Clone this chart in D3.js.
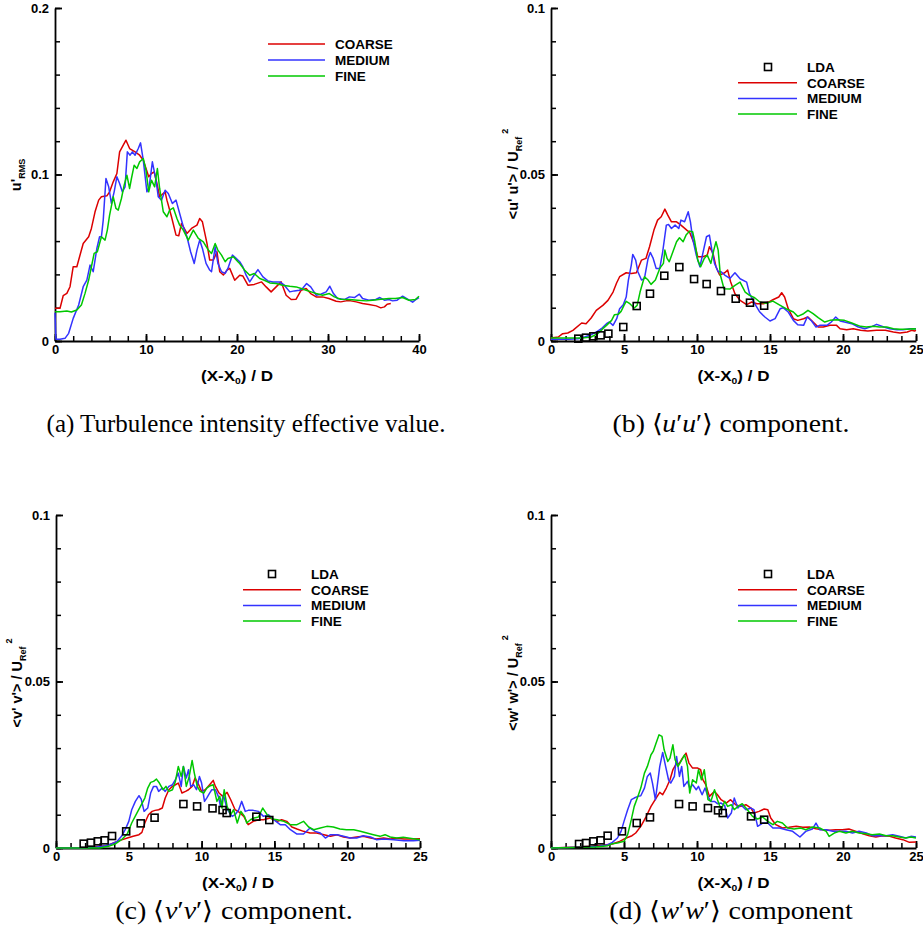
<!DOCTYPE html>
<html>
<head>
<meta charset="utf-8">
<script src="https://cdn.jsdelivr.net/npm/d3@7"></script>
<style>
  body { margin: 0; background: #fff; }
  svg { display: block; }
  .tk text { font-family: 'Liberation Sans', Arial, sans-serif; font-weight: bold; font-size: 13px; fill: #000; }
  .lbl { font-family: 'Liberation Sans', Arial, sans-serif; font-weight: bold; fill: #000; }
  .cap { font-family: 'Liberation Serif', 'Times New Roman', serif; fill: #000; }
</style>
</head>
<body>
<svg width="923" height="944"></svg>
<script>
// panel (a) : u'rms vs (X-X0)/D
const aCoarse = [[0,0.0196],[0.55,0.0196],[0.9,0.0272],[1.3,0.0286],[1.65,0.0326],[2.0,0.0446],[2.4,0.0446],[3.1,0.0586],[3.7,0.0626],[4.0,0.0676],[4.4,0.0776],[4.8,0.0846],[5.1,0.0866],[5.7,0.0872],[6.0,0.0896],[6.4,0.0956],[6.8,0.1006],[7.1,0.1136],[7.5,0.1176],[7.8,0.1206],[8.2,0.1156],[8.8,0.1136],[9.3,0.1116],[9.7,0.1086],[10.3,0.0986],[10.6,0.1006],[10.9,0.1016],[11.2,0.0946],[11.5,0.0866],[12.1,0.0896],[12.3,0.0846],[12.8,0.0746],[13.3,0.0636],[13.6,0.0632],[13.9,0.0706],[14.5,0.0646],[15.0,0.0676],[15.6,0.0696],[15.9,0.0736],[16.2,0.0716],[16.7,0.0586],[17.0,0.0486],[17.4,0.0486],[17.8,0.0536],[18.1,0.0416],[18.5,0.0396],[18.9,0.0426],[19.2,0.0436],[19.75,0.0365],[20.3,0.0395],[20.65,0.039],[21.2,0.0335],[21.9,0.034],[22.7,0.0355],[23.2,0.0325],[23.75,0.0295],[24.3,0.0325],[24.85,0.0355],[25.4,0.0275],[25.95,0.0249],[26.5,0.0251],[27.05,0.0305],[27.6,0.0315],[28.1,0.0285],[28.7,0.0265],[29.4,0.0265],[30.1,0.0255],[30.9,0.0239],[31.4,0.0235],[32.0,0.0241],[32.5,0.0241],[33.1,0.0235],[33.8,0.0225],[34.5,0.0219],[35.3,0.0211],[35.8,0.0199],[36.2,0.0205],[36.5,0.0221],[36.9,0.0225]];
const aMedium = [[0,0.017],[0.1,0.001],[0.55,0.001],[1.1,0.0016],[1.5,0.0046],[2.0,0.0136],[2.6,0.0216],[3.1,0.0326],[3.5,0.0366],[3.85,0.0456],[4.2,0.0416],[4.6,0.0556],[4.9,0.0626],[5.1,0.0626],[5.3,0.0726],[5.6,0.0976],[5.9,0.0926],[6.2,0.0826],[6.5,0.0896],[6.8,0.0986],[7.1,0.0946],[7.4,0.0896],[7.7,0.0926],[7.95,0.1136],[8.25,0.1116],[8.5,0.1136],[8.8,0.1116],[9.15,0.1156],[9.4,0.119],[9.7,0.1086],[10.1,0.0896],[10.35,0.0926],[10.7,0.1076],[11.1,0.0966],[11.35,0.0866],[11.7,0.0846],[12.1,0.0906],[12.45,0.0886],[12.9,0.0826],[13.3,0.0846],[13.7,0.0766],[14.1,0.0686],[14.5,0.0626],[14.9,0.0536],[15.3,0.0466],[15.6,0.0546],[15.9,0.0606],[16.2,0.0556],[16.6,0.0466],[17.0,0.0426],[17.2,0.0416],[17.6,0.0566],[17.9,0.0466],[18.3,0.0416],[18.7,0.0406],[19.0,0.0436],[19.5,0.0516],[19.9,0.0496],[20.3,0.0476],[20.65,0.0445],[21.0,0.0395],[21.4,0.0355],[21.75,0.0385],[22.3,0.0429],[22.85,0.0385],[23.4,0.0361],[23.95,0.0355],[24.7,0.0355],[25.2,0.0335],[25.8,0.0295],[26.3,0.0301],[26.85,0.0305],[27.2,0.0315],[27.65,0.0345],[28.1,0.0325],[28.7,0.0275],[29.2,0.0281],[29.8,0.0295],[30.2,0.0329],[30.6,0.0285],[31.05,0.0255],[31.8,0.0249],[32.35,0.0265],[32.9,0.0261],[33.45,0.0281],[33.8,0.0255],[34.5,0.0245],[35.25,0.0249],[35.7,0.0261],[36.2,0.0245],[36.7,0.0249],[37.1,0.0241],[37.6,0.0245],[38.2,0.0269],[38.7,0.0253],[39.3,0.0233],[39.6,0.0247],[40,0.0261]];
const aFine = [[0,0.0176],[0.55,0.0176],[1.3,0.018],[1.8,0.0174],[2.4,0.0186],[2.9,0.0216],[3.3,0.0286],[3.7,0.0366],[4.0,0.0446],[4.3,0.0526],[4.65,0.0536],[4.9,0.0586],[5.1,0.0626],[5.5,0.0606],[5.75,0.0666],[6.0,0.0756],[6.4,0.0866],[6.7,0.0796],[6.95,0.0786],[7.3,0.0856],[7.6,0.0936],[7.9,0.0996],[8.2,0.0916],[8.4,0.0976],[8.7,0.1056],[9.0,0.1036],[9.3,0.1076],[9.7,0.1096],[10.0,0.1026],[10.3,0.0896],[10.6,0.0966],[10.95,0.0926],[11.25,0.1036],[11.5,0.0916],[11.9,0.0776],[12.3,0.0746],[12.6,0.0786],[13.0,0.08],[13.4,0.0736],[13.7,0.0696],[14.1,0.0666],[14.65,0.0606],[15.2,0.0666],[15.75,0.0616],[16.3,0.0596],[16.85,0.0546],[17.2,0.0526],[17.6,0.0586],[17.9,0.0546],[18.3,0.0516],[18.7,0.0476],[19.0,0.0496],[19.6,0.0506],[20.1,0.0476],[20.3,0.0465],[20.85,0.0425],[21.4,0.0395],[21.9,0.0405],[22.5,0.0375],[23.0,0.0365],[23.6,0.0349],[24.3,0.0345],[25.0,0.0335],[25.8,0.0329],[26.5,0.0325],[27.05,0.0315],[27.6,0.0305],[28.15,0.0295],[28.7,0.0285],[29.4,0.0275],[30.15,0.0285],[30.7,0.0265],[31.4,0.0251],[32.35,0.0249],[33.25,0.0245],[34.2,0.0241],[34.9,0.0245],[35.8,0.0251],[36.7,0.0255],[37.4,0.0255],[38.2,0.0261],[38.9,0.0245],[39.6,0.0249],[40,0.0269]];

// panel (b) : <u'u'>
const bLda = [[1.87,0.0007],[2.4,0.001],[2.9,0.0014],[3.4,0.0017],[3.93,0.0022],[4.95,0.0042],[5.87,0.0105],[6.78,0.0142],[7.76,0.0196],[8.79,0.0222],[9.8,0.0186],[10.66,0.0171],[11.64,0.015],[12.65,0.0127],[13.63,0.0115],[14.6,0.0106]];
const bCoarse = [[0,0.0009],[0.5,0.0012],[0.8,0.0022],[1.15,0.0024],[1.5,0.0032],[2.1,0.0054],[2.4,0.0052],[2.75,0.0069],[3.1,0.0092],[3.55,0.0107],[3.9,0.0122],[4.25,0.0147],[4.5,0.0175],[4.7,0.0193],[5.15,0.0205],[5.5,0.0203],[5.85,0.0205],[6.2,0.0243],[6.5,0.0248],[6.75,0.0283],[7.05,0.0333],[7.3,0.0363],[7.55,0.0373],[7.8,0.0396],[8.0,0.0378],[8.25,0.0358],[8.6,0.0358],[8.9,0.0348],[9.3,0.0333],[9.5,0.0326],[9.85,0.0288],[10.05,0.0253],[10.4,0.0253],[10.7,0.0258],[10.85,0.0283],[11.1,0.0263],[11.3,0.0223],[11.55,0.0198],[11.9,0.0205],[12.1,0.0213],[12.3,0.0178],[12.6,0.0142],[12.95,0.0122],[13.4,0.0109],[13.75,0.0117],[14.1,0.0112],[14.55,0.0112],[14.9,0.0117],[15.2,0.0124],[15.6,0.0132],[15.8,0.0145],[16.0,0.0132],[16.25,0.0097],[16.6,0.0067],[16.9,0.0062],[17.3,0.0067],[17.6,0.0072],[17.95,0.0057],[18.3,0.0042],[18.65,0.0042],[19.1,0.0047],[19.56,0.0047],[19.8,0.0037],[20.25,0.0034],[20.7,0.0037],[21.2,0.0032],[21.7,0.003],[22.3,0.0032],[22.9,0.0032],[23.45,0.0027],[23.9,0.0024],[24.4,0.0027],[24.7,0.0032],[24.9,0.003],[25,0.0032]];
const bMedium = [[0,0.0005],[1.2,0.0005],[1.85,0.0007],[2.3,0.0012],[2.75,0.0019],[3.1,0.0027],[3.45,0.0037],[3.8,0.0052],[4.0,0.0057],[4.25,0.0047],[4.5,0.0067],[4.7,0.0097],[4.95,0.0109],[5.15,0.0132],[5.3,0.0183],[5.5,0.0228],[5.6,0.026],[5.8,0.0243],[5.95,0.0208],[6.2,0.0183],[6.4,0.0188],[6.65,0.0248],[6.8,0.0266],[7.0,0.0248],[7.2,0.0218],[7.45,0.0218],[7.65,0.0268],[7.9,0.0348],[8.05,0.035],[8.25,0.0338],[8.5,0.0348],[8.75,0.0338],[8.9,0.0363],[9.15,0.0358],[9.4,0.0388],[9.55,0.0358],[9.7,0.0308],[9.95,0.0258],[10.2,0.0223],[10.4,0.0263],[10.65,0.0313],[10.85,0.0318],[11.0,0.0278],[11.2,0.0233],[11.45,0.0208],[11.65,0.0208],[11.9,0.0198],[12.25,0.0188],[12.6,0.0205],[12.95,0.0187],[13.4,0.0177],[13.6,0.0142],[13.95,0.0112],[14.3,0.0087],[14.65,0.0072],[15.0,0.006],[15.35,0.0067],[15.7,0.0097],[15.9,0.01],[16.25,0.0087],[16.6,0.0062],[16.9,0.0049],[17.3,0.0047],[17.55,0.0072],[17.85,0.006],[18.15,0.0042],[18.4,0.0047],[18.9,0.0047],[19.2,0.0057],[19.5,0.0072],[19.8,0.006],[20.1,0.0057],[20.6,0.0052],[21.05,0.0042],[21.5,0.0037],[22.0,0.0044],[22.3,0.005],[22.8,0.0042],[23.2,0.0037],[23.7,0.0034],[24.1,0.0034],[24.6,0.0037],[25,0.0037]];
const bFine = [[0,0.0009],[1.15,0.0009],[2.1,0.0009],[2.75,0.0012],[3.2,0.0022],[3.55,0.0037],[3.8,0.0047],[4.15,0.0062],[4.35,0.0079],[4.6,0.008],[4.8,0.0089],[5.0,0.0107],[5.15,0.0119],[5.4,0.0112],[5.7,0.0099],[5.9,0.0107],[6.1,0.0147],[6.4,0.0193],[6.65,0.0183],[6.85,0.017],[7.15,0.0183],[7.45,0.0218],[7.7,0.0233],[7.8,0.0273],[7.95,0.0248],[8.1,0.0238],[8.35,0.0268],[8.6,0.0298],[8.8,0.031],[9.05,0.0298],[9.25,0.0318],[9.5,0.033],[9.7,0.0328],[9.85,0.0298],[10.05,0.0243],[10.25,0.0223],[10.5,0.0248],[10.7,0.0258],[10.95,0.0233],[11.15,0.0273],[11.3,0.0298],[11.45,0.0273],[11.6,0.0198],[11.85,0.0157],[12.25,0.0156],[12.6,0.0167],[12.95,0.0177],[13.3,0.0147],[13.6,0.0137],[13.95,0.013],[14.3,0.0117],[14.75,0.0113],[15.2,0.012],[15.7,0.0107],[16.1,0.0097],[16.6,0.0087],[16.9,0.0074],[17.3,0.0082],[17.6,0.0092],[17.95,0.0082],[18.3,0.007],[18.75,0.0057],[19.1,0.0062],[19.55,0.0064],[20.1,0.0062],[20.6,0.0054],[21.2,0.0044],[21.6,0.0042],[22.1,0.0044],[22.5,0.0042],[23.0,0.0042],[23.45,0.0037],[23.9,0.0035],[24.4,0.0035],[24.8,0.0037],[25,0.0036]];

// panel (c) : <v'v'>
const cLda = [[1.9,0.0013],[2.4,0.0016],[2.87,0.002],[3.34,0.0023],[3.85,0.0036],[4.82,0.005],[5.82,0.0074],[6.77,0.0091],[8.75,0.0132],[9.69,0.0125],[10.75,0.0119],[11.44,0.0114],[11.72,0.0105],[13.76,0.0094],[14.65,0.0084]];
const cCoarse = [[0,0],[1.9,0],[2.6,0.0003],[3.0,0.0005],[3.5,0.0007],[3.95,0.0015],[4.4,0.0023],[4.9,0.003],[5.3,0.0035],[5.7,0.004],[5.9,0.0047],[6.1,0.0075],[6.35,0.01],[6.6,0.011],[6.8,0.0113],[7.05,0.0115],[7.3,0.012],[7.5,0.015],[7.75,0.0175],[8.0,0.0185],[8.2,0.019],[8.4,0.0195],[8.65,0.0165],[8.9,0.017],[9.1,0.0175],[9.35,0.0185],[9.55,0.021],[9.8,0.019],[10.0,0.017],[10.25,0.0175],[10.55,0.019],[10.8,0.0203],[10.95,0.0185],[11.2,0.0165],[11.45,0.0155],[11.75,0.0167],[12.0,0.0145],[12.3,0.0115],[12.6,0.0107],[12.9,0.0095],[13.2,0.007],[13.55,0.008],[13.9,0.0085],[14.25,0.0085],[14.7,0.009],[15.2,0.008],[15.5,0.0085],[15.85,0.008],[16.2,0.0063],[16.55,0.0057],[17.0,0.005],[17.45,0.0045],[17.9,0.0045],[18.4,0.004],[18.85,0.0035],[19.3,0.004],[19.75,0.0033],[20.2,0.003],[20.65,0.0033],[21.1,0.0035],[21.6,0.003],[22.0,0.0027],[22.5,0.003],[22.95,0.0027],[23.4,0.0029],[23.9,0.0027],[24.3,0.0027],[25,0.0028]];
const cMedium = [[0,0],[1.9,0],[2.8,0.0003],[3.4,0.0007],[3.85,0.0013],[4.2,0.002],[4.5,0.0035],[4.75,0.0055],[5.0,0.008],[5.2,0.0115],[5.45,0.014],[5.7,0.0157],[5.85,0.0147],[6.05,0.011],[6.3,0.012],[6.5,0.0165],[6.7,0.0185],[6.9,0.0185],[7.05,0.017],[7.3,0.018],[7.5,0.017],[7.75,0.0185],[8.0,0.019],[8.2,0.0205],[8.4,0.0225],[8.6,0.0185],[8.75,0.0245],[8.95,0.021],[9.1,0.0235],[9.25,0.0185],[9.45,0.019],[9.65,0.0175],[9.85,0.0215],[10.0,0.0195],[10.2,0.014],[10.35,0.015],[10.55,0.0165],[10.7,0.0175],[10.95,0.0175],[11.15,0.0155],[11.3,0.0125],[11.5,0.016],[11.7,0.0125],[11.85,0.011],[12.1,0.0095],[12.3,0.01],[12.55,0.0115],[12.75,0.014],[13.0,0.011],[13.2,0.0113],[13.55,0.0113],[13.9,0.011],[14.25,0.0095],[14.6,0.01],[14.95,0.0085],[15.4,0.007],[15.75,0.007],[16.1,0.0055],[16.55,0.0042],[17.0,0.0042],[17.45,0.006],[17.8,0.005],[18.15,0.0045],[18.5,0.003],[18.85,0.004],[19.3,0.004],[19.75,0.0035],[20.2,0.003],[20.65,0.003],[21.1,0.0037],[21.6,0.0033],[22.0,0.0025],[22.5,0.0027],[23.2,0.0025],[23.9,0.0022],[24.55,0.0022],[25,0.0023]];
const cFine = [[0,0],[3.0,0],[3.6,0.0005],[4.1,0.0013],[4.5,0.0025],[4.9,0.0043],[5.2,0.0075],[5.5,0.01],[5.8,0.0125],[6.1,0.015],[6.3,0.018],[6.5,0.0197],[6.7,0.02],[6.9,0.0207],[7.1,0.0195],[7.35,0.0175],[7.55,0.0185],[7.75,0.017],[8.0,0.0175],[8.2,0.02],[8.4,0.0245],[8.6,0.0215],[8.75,0.0245],[8.95,0.0185],[9.15,0.0215],[9.35,0.0263],[9.5,0.0225],[9.7,0.0185],[9.9,0.017],[10.15,0.0165],[10.35,0.018],[10.6,0.0187],[10.8,0.019],[11.05,0.014],[11.25,0.0155],[11.4,0.012],[11.55,0.0175],[11.75,0.0125],[12.0,0.01],[12.2,0.0115],[12.45,0.0075],[12.7,0.011],[12.95,0.0095],[13.1,0.0075],[13.35,0.0085],[13.6,0.009],[13.9,0.0093],[14.2,0.012],[14.5,0.01],[14.85,0.0087],[15.2,0.0085],[15.65,0.008],[16.1,0.007],[16.55,0.007],[17.0,0.008],[17.35,0.0063],[17.7,0.0055],[18.15,0.006],[18.6,0.0065],[19.05,0.0063],[19.5,0.0057],[19.95,0.0055],[20.45,0.0055],[20.9,0.005],[21.35,0.0045],[21.8,0.004],[22.25,0.0035],[22.6,0.004],[22.95,0.0033],[23.4,0.003],[23.85,0.0032],[24.3,0.0029],[25,0.0025]];

// panel (d) : <w'w'>
const dLda = [[1.92,0.0012],[2.4,0.0015],[2.9,0.002],[3.4,0.0023],[3.88,0.0037],[4.86,0.005],[5.87,0.0075],[6.78,0.0092],[8.77,0.0132],[9.7,0.0125],[10.75,0.012],[11.44,0.0113],[11.76,0.0105],[13.7,0.0095],[14.6,0.0085]];
const dCoarse = [[0,0],[1.95,0.0003],[2.85,0.0005],[3.55,0.0008],[4.2,0.0012],[4.7,0.002],[5.15,0.003],[5.55,0.0037],[5.8,0.0045],[6.15,0.0065],[6.5,0.0093],[6.85,0.0125],[7.2,0.015],[7.45,0.0167],[7.65,0.016],[7.9,0.018],[8.15,0.0205],[8.35,0.0235],[8.55,0.025],[8.8,0.0255],[9.0,0.027],[9.25,0.0285],[9.45,0.0255],[9.7,0.024],[10.05,0.024],[10.25,0.0235],[10.4,0.0205],[10.6,0.019],[10.85,0.0155],[11.2,0.017],[11.4,0.016],[11.65,0.0145],[12.0,0.0135],[12.3,0.0145],[12.65,0.013],[13.0,0.0125],[13.35,0.013],[13.7,0.012],[13.9,0.0105],[14.25,0.011],[14.6,0.0117],[14.85,0.0115],[15.05,0.009],[15.4,0.007],[15.85,0.006],[16.3,0.0062],[16.8,0.0065],[17.25,0.0062],[17.7,0.0063],[18.15,0.0058],[18.6,0.0055],[19.05,0.0053],[19.5,0.0055],[19.95,0.0055],[20.4,0.0057],[20.9,0.005],[21.35,0.0043],[21.8,0.0037],[22.25,0.0033],[22.7,0.0037],[23.2,0.0035],[23.6,0.003],[24.1,0.0025],[24.55,0.0017],[25,0.0018]];
const dMedium = [[0,0],[2.4,0.0003],[3.3,0.0005],[3.9,0.001],[4.2,0.0017],[4.55,0.003],[4.8,0.005],[5.0,0.008],[5.25,0.0115],[5.5,0.0145],[5.7,0.015],[5.95,0.0155],[6.15,0.0157],[6.4,0.018],[6.6,0.0215],[6.8,0.0225],[6.95,0.0195],[7.15,0.0145],[7.3,0.0195],[7.45,0.0245],[7.65,0.0287],[7.85,0.0245],[8.05,0.0205],[8.2,0.0195],[8.45,0.0215],[8.6,0.0275],[8.8,0.0215],[8.95,0.0245],[9.1,0.0185],[9.35,0.02],[9.5,0.018],[9.7,0.019],[9.95,0.0175],[10.1,0.0185],[10.35,0.016],[10.55,0.018],[10.75,0.0155],[10.95,0.014],[11.2,0.014],[11.4,0.0133],[11.65,0.0135],[11.9,0.0127],[12.1,0.009],[12.35,0.0105],[12.55,0.015],[12.8,0.012],[13.0,0.013],[13.35,0.0115],[13.7,0.012],[13.9,0.0115],[14.15,0.0065],[14.5,0.0075],[14.85,0.0075],[15.2,0.006],[15.65,0.006],[16.1,0.0055],[16.55,0.005],[17.05,0.0033],[17.45,0.005],[17.9,0.0057],[18.15,0.0075],[18.4,0.0055],[18.85,0.0055],[19.3,0.005],[19.75,0.005],[20.2,0.005],[20.65,0.0045],[21.1,0.005],[21.6,0.0045],[22.0,0.0037],[22.5,0.0037],[22.95,0.0037],[23.4,0.004],[23.85,0.0035],[24.3,0.003],[24.65,0.0035],[25,0.0033]];
const dFine = [[0,0],[3.1,0.0003],[3.9,0.0007],[4.2,0.0013],[4.55,0.0015],[5.0,0.002],[5.25,0.004],[5.5,0.0085],[5.7,0.0125],[5.95,0.0155],[6.15,0.018],[6.4,0.0225],[6.6,0.0245],[6.85,0.028],[7.0,0.029],[7.2,0.0315],[7.4,0.034],[7.6,0.0335],[7.75,0.0295],[8.0,0.026],[8.15,0.027],[8.35,0.031],[8.5,0.0265],[8.7,0.0245],[8.9,0.026],[9.15,0.028],[9.35,0.0245],[9.5,0.0165],[9.7,0.0205],[9.95,0.0195],[10.1,0.0235],[10.3,0.0205],[10.5,0.0235],[10.75,0.0145],[10.95,0.014],[11.2,0.0175],[11.4,0.0145],[11.65,0.0115],[11.9,0.014],[12.1,0.0125],[12.35,0.013],[12.55,0.0115],[12.8,0.0125],[13.1,0.0133],[13.45,0.0115],[13.8,0.0095],[14.15,0.0087],[14.5,0.0093],[14.85,0.008],[15.2,0.007],[15.5,0.008],[15.85,0.0075],[16.2,0.006],[16.65,0.0057],[17.1,0.006],[17.45,0.0055],[17.9,0.0063],[18.4,0.006],[18.85,0.005],[19.05,0.0035],[19.4,0.0045],[19.75,0.005],[20.2,0.0045],[20.65,0.005],[21.1,0.0045],[21.6,0.0043],[22.0,0.004],[22.5,0.0042],[22.95,0.0037],[23.4,0.0037],[23.85,0.0033],[24.3,0.003],[24.65,0.0033],[25,0.003]];

const seriesNames = ["COARSE", "MEDIUM", "FINE"];
const seriesColors = ["#dc0000", "#3333ff", "#00c800"];

const svg = d3.select('svg');
svg.append('rect').attr('width', 923).attr('height', 944).attr('fill', '#fff');

const line = function(x, y) {
  return d3.line().x(d => x(d[0])).y(d => y(d[1]));
};

// squeeze/stretch a text node horizontally around cx so it spans w pixels
function fitWidth(sel, cx, w) {
  var bw = sel.node().getBBox().width;
  var k = w / bw;
  sel.attr('transform', 'translate(' + cx + ',0) scale(' + k + ',1) translate(' + (-cx) + ',0)');
}

function drawPanel(p) {
  var x = d3.scaleLinear().domain(p.xDomain).range([p.left, p.right]);
  var y = d3.scaleLinear().domain(p.yDomain).range([p.bottom, p.top]);
  var g = svg.append('g');

  // minor ticks first, then the labelled axis on top
  g.append('g')
    .attr('transform', 'translate(0,' + p.bottom + ')')
    .call(d3.axisBottom(x).tickValues(d3.range(p.xDomain[0], p.xDomain[1] + 1e-9, p.xMinor))
      .tickSize(-5).tickSizeOuter(0).tickFormat(''))
    .call(s => s.select('.domain').remove())
    .selectAll('line').attr('stroke-width', 1.5);
  g.append('g')
    .attr('transform', 'translate(' + p.left + ',0)')
    .call(d3.axisLeft(y).tickValues(d3.range(p.yDomain[0], p.yDomain[1] + 1e-9, p.yMinor))
      .tickSize(-5).tickSizeOuter(0).tickFormat(''))
    .call(s => s.select('.domain').remove())
    .selectAll('line').attr('stroke-width', 1.5);

  var xa = g.append('g').attr('class', 'tk')
    .attr('transform', 'translate(0,' + p.bottom + ')')
    .call(d3.axisBottom(x).tickValues(d3.range(p.xDomain[0], p.xDomain[1] + 1e-9, p.xMajor))
      .tickSize(-7).tickSizeOuter(0).tickPadding(4).tickFormat(d3.format('~g')));
  xa.select('.domain').attr('stroke-width', 1.8);
  xa.selectAll('line').attr('stroke-width', 1.8);

  var ya = g.append('g').attr('class', 'tk')
    .attr('transform', 'translate(' + p.left + ',0)')
    .call(d3.axisLeft(y).tickValues(d3.range(p.yDomain[0], p.yDomain[1] + 1e-9, p.yMajor))
      .tickSize(-7).tickSizeOuter(0).tickPadding(6).tickFormat(d3.format('~g')));
  ya.select('.domain').attr('stroke-width', 1.8);
  ya.selectAll('line').attr('stroke-width', 1.8);

  // curves
  p.series.forEach(function(s, i) {
    g.append('path')
      .datum(s)
      .attr('d', line(x, y))
      .attr('fill', 'none')
      .attr('stroke', seriesColors[i])
      .attr('stroke-width', 1.5)
      .attr('stroke-linejoin', 'round');
  });

  if (p.lda) {
    g.selectAll('.lda')
      .data(p.lda)
      .enter().append('rect')
      .attr('x', d => x(d[0]) - 3.5)
      .attr('y', d => y(d[1]) - 3.5)
      .attr('width', 7).attr('height', 7)
      .attr('fill', 'none')
      .attr('stroke', '#000')
      .attr('stroke-width', 1.6);
  }

  // legend
  var L = p.legend;
  var rows = seriesNames.map((n, i) => ({name: n, color: seriesColors[i]}));
  var y0 = L.y;
  if (p.lda) {
    g.append('rect')
      .attr('x', L.sq - 3.5).attr('y', y0 - 3.5)
      .attr('width', 7).attr('height', 7)
      .attr('fill', 'none').attr('stroke', '#000').attr('stroke-width', 1.6);
    g.append('text').attr('class', 'lbl').attr('font-size', 13.5)
      .attr('x', L.text).attr('y', y0).attr('dy', '0.36em').text('LDA');
    y0 += L.step;
  }
  rows.forEach(function(r, i) {
    var yy = y0 + i * L.step;
    g.append('line')
      .attr('x1', L.x1).attr('x2', L.x2).attr('y1', yy).attr('y2', yy)
      .attr('stroke', r.color).attr('stroke-width', 1.5);
    g.append('text').attr('class', 'lbl').attr('font-size', 13.5)
      .attr('x', L.text).attr('y', yy).attr('dy', '0.36em').text(r.name);
  });

  // x title
  var cx = (p.left + p.right) / 2;
  var xt = g.append('text').attr('class', 'lbl').attr('font-size', 14)
    .attr('text-anchor', 'middle')
    .attr('x', cx).attr('y', p.bottom + 40);
  xt.append('tspan').text('(X-X');
  xt.append('tspan').attr('font-size', 8.5).attr('dy', 3).text('0');
  xt.append('tspan').attr('dy', -3).text(') / D');
  fitWidth(xt, cx, 72);

  // y title
  var yt = g.append('text').attr('class', 'lbl').attr('font-size', 14.5)
    .attr('text-anchor', 'middle')
    .attr('transform', 'translate(' + p.yTitle[0] + ',' + p.yTitle[1] + ') rotate(-90)');
  yt.append('tspan').text(p.yMain);
  yt.append('tspan').attr('font-size', 9).attr('dy', 4).text(p.ySub);
  if (p.ySup) yt.append('tspan').attr('font-size', 9).attr('dy', -14).attr('dx', 3).text(p.ySup);

  // caption
  var cap = g.append('text').attr('class', 'cap').attr('font-size', 25)
    .attr('text-anchor', 'middle')
    .attr('x', p.cap[0]).attr('y', p.cap[1]);
  p.caption.forEach(function(c) {
    cap.append('tspan').attr('font-style', c.it ? 'italic' : 'normal').text(c.t);
  });
  fitWidth(cap, p.cap[0], p.capWidth);
}

const panels = [
  {
    xDomain: [0, 40], yDomain: [0, 0.2], xMajor: 10, xMinor: 2, yMajor: 0.1, yMinor: 0.02,
    left: 55, right: 419, top: 8, bottom: 341,
    series: [aCoarse, aMedium, aFine], lda: null,
    legend: {x1: 268, x2: 325, text: 335, y: 44, step: 16},
    yTitle: [21, 175], yMain: "u'", ySub: "RMS",
    cap: [246, 432], capWidth: 399,
    caption: [{t: "(a) Turbulence intensity effective value."}]
  },
  {
    xDomain: [0, 25], yDomain: [0, 0.1], xMajor: 5, xMinor: 1, yMajor: 0.05, yMinor: 0.01,
    left: 551, right: 916, top: 8, bottom: 341,
    series: [bCoarse, bMedium, bFine], lda: bLda,
    legend: {x1: 738, x2: 797, sq: 768, text: 807, y: 67, step: 15.7},
    yTitle: [518, 174], yMain: "<u' u'> / U", ySub: "Ref", ySup: "2",
    cap: [731, 432], capWidth: 238,
    caption: [{t: "(b) \u27e8"}, {t: "u", it: true}, {t: "\u2032"}, {t: "u", it: true}, {t: "\u2032\u27e9 component."}]
  },
  {
    xDomain: [0, 25], yDomain: [0, 0.1], xMajor: 5, xMinor: 1, yMajor: 0.05, yMinor: 0.01,
    left: 56, right: 420, top: 515, bottom: 848,
    series: [cCoarse, cMedium, cFine], lda: cLda,
    legend: {x1: 243, x2: 301, sq: 272, text: 311, y: 574, step: 15.7},
    yTitle: [22, 683], yMain: "<v' v'> / U", ySub: "Ref", ySup: "2",
    cap: [234, 919], capWidth: 237,
    caption: [{t: "(c) \u27e8"}, {t: "v", it: true}, {t: "\u2032"}, {t: "v", it: true}, {t: "\u2032\u27e9 component."}]
  },
  {
    xDomain: [0, 25], yDomain: [0, 0.1], xMajor: 5, xMinor: 1, yMajor: 0.05, yMinor: 0.01,
    left: 551, right: 916, top: 515, bottom: 848,
    series: [dCoarse, dMedium, dFine], lda: dLda,
    legend: {x1: 738, x2: 797, sq: 768, text: 807, y: 574, step: 15.7},
    yTitle: [518, 683], yMain: "<w' w'> / U", ySub: "Ref", ySup: "2",
    cap: [731, 919], capWidth: 243,
    caption: [{t: "(d) \u27e8"}, {t: "w", it: true}, {t: "\u2032"}, {t: "w", it: true}, {t: "\u2032\u27e9 component"}]
  }
];

panels.forEach(drawPanel);
</script>
</body>
</html>
